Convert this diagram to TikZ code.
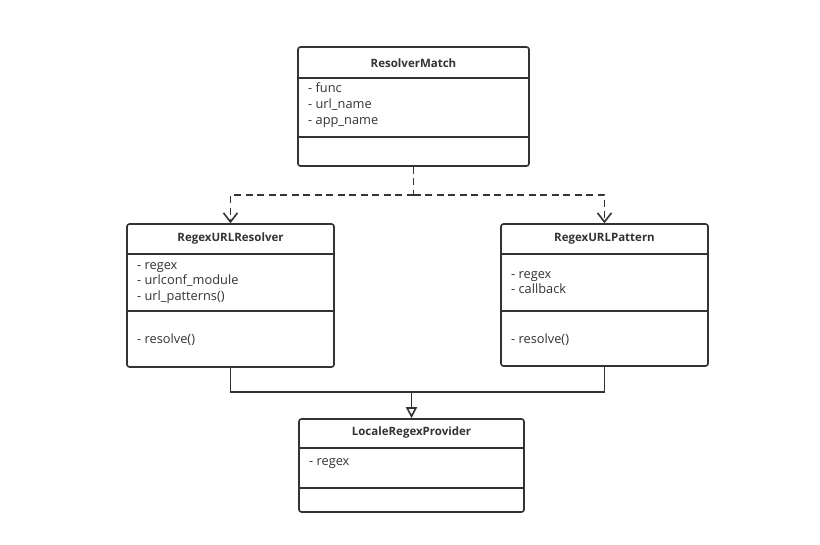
\documentclass[tikz,border=0pt]{standalone}
\usepackage{fontspec}
\setmainfont{Open Sans}
\usetikzlibrary{arrows.meta}
\definecolor{linegray}{HTML}{333333}
\definecolor{textgray}{HTML}{333333}
\tikzset{
  classbox/.style={draw=linegray,line width=1.6pt,rounded corners=2.5pt,fill=white,inner sep=0pt},
  title/.style={font=\bfseries\fontsize{11.5}{14}\selectfont,text=textgray,inner sep=0pt},
  member/.style={anchor=west,align=left,font=\fontsize{12.8}{15.8}\selectfont,text=textgray,inner sep=0pt},
  sepline/.style={draw=linegray,line width=1.6pt},
  depend/.style={draw=linegray,line width=1.6pt,dash pattern=on 7pt off 4.5pt,-{Straight Barb[length=9pt,width=14pt,line width=1.6pt]}},
  link/.style={draw=linegray,line width=1.6pt},
  inherit/.style={draw=linegray,line width=1.6pt,-{Triangle[open,fill=white,length=11pt,width=11pt,line width=1.6pt]}}
}

\begin{document}
\begin{tikzpicture}[x=1pt,y=-1pt]

    % -- Overall frame of the picture --
    \useasboundingbox (0,0) rectangle (820,544);

    % -- Class boxes --
    \node[classbox,minimum width=231pt,minimum height=119pt] (match) at (413.5,106.5) {};
    \node[classbox,minimum width=207pt,minimum height=143pt] (resolver) at (230.5,295.5) {};
    \node[classbox,minimum width=207pt,minimum height=142pt] (pattern) at (604.5,295) {};
    \node[classbox,minimum width=225pt,minimum height=93pt] (provider) at (411.5,465.5) {};

    % -- Compartment lines --
    \draw[sepline] (match.west |- 0,78) -- (match.east |- 0,78);
    \draw[sepline] (match.west |- 0,137) -- (match.east |- 0,137);
    \draw[sepline] (resolver.west |- 0,254) -- (resolver.east |- 0,254);
    \draw[sepline] (resolver.west |- 0,311) -- (resolver.east |- 0,311);
    \draw[sepline] (pattern.west |- 0,254) -- (pattern.east |- 0,254);
    \draw[sepline] (pattern.west |- 0,311) -- (pattern.east |- 0,311);
    \draw[sepline] (provider.west |- 0,448) -- (provider.east |- 0,448);
    \draw[sepline] (provider.west |- 0,488) -- (provider.east |- 0,488);

    % -- Class names --
    \node[title] (matchname) at (413.5,63) {ResolverMatch};
    \node[title] (resolvername) at (230.5,239) {RegexURLResolver};
    \node[title] (patternname) at (604.5,239) {RegexURLPattern};
    \node[title] (providername) at (411.5,433) {LocaleRegexProvider};

    % -- Attributes and methods --
    \node[member] (matchattr) at (308,105) {- func\\- url\_name\\- app\_name};
    \node[member] (resolverattr) at (137,283) {- regex\\- urlconf\_module\\- url\_patterns()};
    \node[member] (resolverops) at (137,340) {- resolve()};
    \node[member] (patternattr) at (511,282.5) {- regex\\- callback};
    \node[member] (patternops) at (511,340) {- resolve()};
    \node[member] (providerattr) at (309,464) {- regex};

    % -- Dependencies (dashed) --
    \coordinate (fork) at (413.5,195);
    \draw[link,dash pattern=on 7pt off 4.5pt] (match.south) -- (fork);
    \draw[depend] (fork) -| (resolver.north);
    \draw[depend] (fork) -| (pattern.north);

    % -- Generalisation (solid, hollow triangle) --
    \coordinate (join) at (411.5,392);
    \draw[link] (resolver.south) |- (join) -| (pattern.south);
    \draw[inherit] (join) -- (provider.north);

\end{tikzpicture}
\end{document}
